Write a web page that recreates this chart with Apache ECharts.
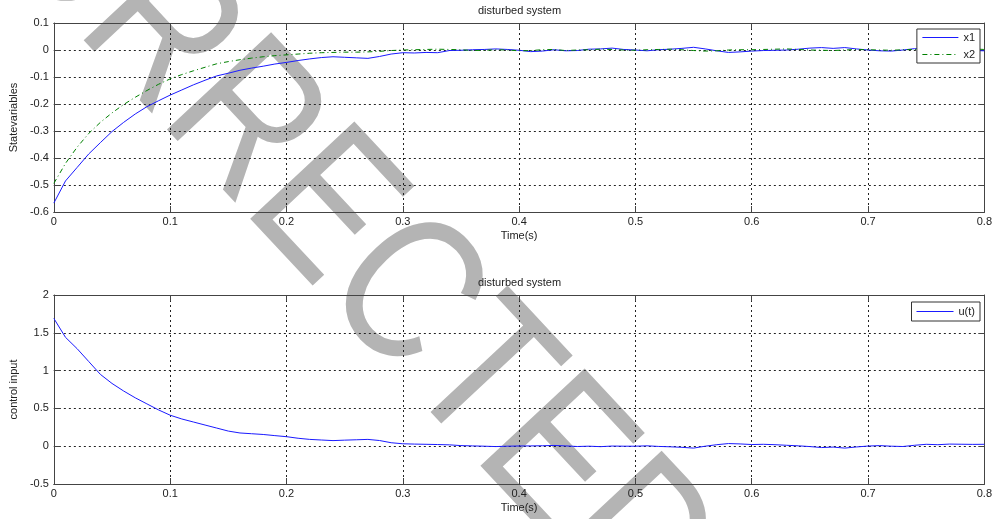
<!DOCTYPE html>
<html>
<head>
<meta charset="utf-8">
<script src="https://cdn.jsdelivr.net/npm/echarts@6/dist/echarts.min.js"></script>
<style>html,body{margin:0;padding:0;background:#fff;}#c{width:995px;height:519px;}</style>
</head>
<body>
<div id="c"></div>
<script>
var times = [
0.00,0.01,0.02,0.03,0.04,0.05,0.06,0.07,0.08,0.09,
0.10,0.11,0.12,0.13,0.14,0.15,0.16,0.17,0.18,0.19,
0.20,0.21,0.22,0.23,0.24,0.25,0.26,0.27,0.28,0.29,
0.30,0.31,0.32,0.33,0.34,0.35,0.36,0.37,0.38,0.39,
0.40,0.41,0.42,0.43,0.44,0.45,0.46,0.47,0.48,0.49,
0.50,0.51,0.52,0.53,0.54,0.55,0.56,0.57,0.58,0.59,
0.60,0.61,0.62,0.63,0.64,0.65,0.66,0.67,0.68,0.69,
0.70,0.71,0.72,0.73,0.74,0.75,0.76,0.77,0.78,0.79,
0.80];
var x1 = [
-0.567,-0.485,-0.435,-0.385,-0.343,-0.302,-0.268,-0.237,-0.210,-0.188,
-0.167,-0.148,-0.129,-0.112,-0.096,-0.086,-0.075,-0.067,-0.060,-0.052,
-0.046,-0.039,-0.033,-0.028,-0.025,-0.027,-0.029,-0.031,-0.024,-0.015,
-0.010,-0.011,-0.009,-0.010,-0.002,-0.001,0.001,0.002,0.004,0.002,
-0.001,-0.006,-0.004,0.001,-0.003,-0.002,0.003,0.004,0.007,0.002,
0.000,-0.003,0.001,0.003,0.006,0.010,0.004,-0.003,-0.009,-0.007,
-0.004,-0.002,-0.001,0.000,0.003,0.007,0.009,0.006,0.009,0.004,
0.000,-0.003,-0.004,0.000,0.005,0.003,0.001,0.002,0.000,-0.002,
-0.003];
var x2 = [
-0.494,-0.420,-0.360,-0.309,-0.268,-0.233,-0.202,-0.175,-0.150,-0.127,
-0.107,-0.091,-0.077,-0.064,-0.051,-0.043,-0.036,-0.030,-0.025,-0.021,
-0.018,-0.015,-0.012,-0.010,-0.009,-0.008,-0.008,-0.007,-0.005,-0.002,
0.000,0.001,0.002,0.003,0.002,0.001,-0.002,-0.001,0.001,0.000,
-0.003,-0.002,0.001,0.002,-0.002,0.000,0.001,0.003,0.002,0.000,
-0.001,0.001,0.002,0.003,0.001,-0.002,-0.004,-0.003,0.000,0.001,
0.001,0.002,0.003,0.004,0.002,0.000,-0.001,-0.002,0.000,0.002,
0.001,0.000,-0.001,0.001,0.002,0.003,0.002,0.001,0.003,0.004,
0.002];
var u = [
1.69,1.44,1.29,1.12,0.95,0.83,0.73,0.64,0.56,0.48,
0.41,0.36,0.32,0.28,0.24,0.20,0.175,0.165,0.155,0.14,
0.126,0.105,0.09,0.082,0.074,0.08,0.085,0.09,0.075,0.046,
0.032,0.028,0.025,0.022,0.018,0.008,0.004,0.0,-0.005,0.0,
0.003,0.004,0.006,0.01,0.004,-0.004,0.0,-0.006,0.002,0.0,
0.0,0.005,-0.003,-0.008,-0.015,-0.025,0.0,0.02,0.035,0.03,
0.022,0.025,0.02,0.012,0.005,-0.005,-0.018,-0.012,-0.025,-0.01,
0.002,0.008,0.0,-0.004,0.012,0.025,0.02,0.028,0.026,0.024,
0.025];
var titleText = "disturbed system";
var xName = "Time(s)";
var yNameTop = "Statevariables";
var yNameBottom = "control input";
var watermark = "CORRECTED";

function pairs(ys){ return times.map(function(t,i){ return [t, ys[i]]; }); }

var BLUE = '#1a1aff', GREEN = '#008000';
var FONT = '"Liberation Sans", Arial, sans-serif';
var txt = {fontFamily: FONT, fontSize: 11, color: '#222'};
var split = {show: true, lineStyle: {color: '#222', type: [2, 3], width: 1}};
var aLine = {show: true, onZero: false, lineStyle: {color: '#444', width: 1}};
var tick = {show: true, inside: true, length: 6, lineStyle: {color: '#444'}};

function xMain(gi){
  return {type:'value', gridIndex:gi, min:0, max:0.8, interval:0.1, position:'bottom',
    axisLine:aLine, axisTick:tick, splitLine:split,
    axisLabel:Object.assign({margin:4}, txt),
    name:xName, nameLocation:'middle', nameGap:18, nameTextStyle:txt};
}
function xTop(gi){
  return {type:'value', gridIndex:gi, min:0, max:0.8, interval:0.1, position:'top',
    axisLine:aLine, axisTick:tick, splitLine:{show:false}, axisLabel:{show:false}};
}
function yMain(gi, mn, mx, iv, nm){
  return {type:'value', gridIndex:gi, min:mn, max:mx, interval:iv, position:'left',
    axisLine:aLine, axisTick:tick, splitLine:split,
    axisLabel:Object.assign({margin:5}, txt),
    name:nm, nameLocation:'middle', nameGap:30, nameTextStyle:txt};
}
function yRight(gi, mn, mx, iv){
  return {type:'value', gridIndex:gi, min:mn, max:mx, interval:iv, position:'right',
    axisLine:aLine, axisTick:tick, splitLine:{show:false}, axisLabel:{show:false}};
}
var legLine = {color:'inherit', width:1, type:'inherit', opacity:1};
var barIcon = 'path://M0,0H36V1H0Z';

var chart = echarts.init(document.getElementById('c'), null, {renderer:'canvas'});
chart.setOption({
  backgroundColor:'#fff',
  animation:false,
  color:[BLUE, GREEN, BLUE],
  title:[
    {text:titleText, left:473, top:0, textStyle:{fontFamily:FONT, fontSize:11, fontWeight:'normal', color:'#222'}},
    {text:titleText, left:473, top:272, textStyle:{fontFamily:FONT, fontSize:11, fontWeight:'normal', color:'#222'}}
  ],
  grid:[
    {left:51, right:10, top:23, height:189, containLabel:false, show:false},
    {left:51, right:10, top:295, height:189, containLabel:false, show:false}
  ],
  legend:[
    {data:[
       {name:'x1', icon:barIcon, itemStyle:{color:BLUE, opacity:1}},
       {name:'x2'}
     ],
     orient:'vertical', right:15, top:29, itemWidth:36, itemHeight:12, itemGap:6, symbolKeepAspect:true,
     padding:[3,5,3,5], backgroundColor:'#fff', borderColor:'#333', borderWidth:1, borderRadius:0,
     textStyle:txt, itemStyle:{opacity:0}, lineStyle:legLine},
    {data:[
       {name:'u(t)', icon:barIcon, itemStyle:{color:BLUE, opacity:1}}
     ],
     orient:'vertical', right:15, top:302, itemWidth:37, itemHeight:12, symbolKeepAspect:true,
     padding:[4,5,4,5], backgroundColor:'#fff', borderColor:'#333', borderWidth:1, borderRadius:0,
     textStyle:txt, itemStyle:{opacity:0}, lineStyle:legLine}
  ],
  xAxis:[xMain(0), xTop(0), xMain(1), xTop(1)],
  yAxis:[yMain(0,-0.6,0.1,0.1,yNameTop), yRight(0,-0.6,0.1,0.1), yMain(1,-0.5,2,0.5,yNameBottom), yRight(1,-0.5,2,0.5)],
  graphic:[
    {type:'text', x:308, y:197, rotation:-0.820, scaleX:0.816, scaleY:1, z:-10, silent:true,
     style:{text:watermark, font:'normal 207px "Liberation Sans", Arial, sans-serif', fill:'#b4b4b4', align:'center', verticalAlign:'middle'}}
  ],
  series:[
    {name:'x1', type:'line', color:BLUE, xAxisIndex:0, yAxisIndex:0, data:pairs(x1), showSymbol:false, symbol:'none',
     lineStyle:{color:BLUE, width:1}, itemStyle:{color:BLUE}},
    {name:'x2', type:'line', color:GREEN, xAxisIndex:0, yAxisIndex:0, data:pairs(x2), showSymbol:false, symbol:'none',
     lineStyle:{color:GREEN, width:1, type:[5,3,1,3]}, itemStyle:{color:GREEN}},
    {name:'u(t)', type:'line', color:BLUE, xAxisIndex:2, yAxisIndex:2, data:pairs(u), showSymbol:false, symbol:'none',
     lineStyle:{color:BLUE, width:1}, itemStyle:{color:BLUE}}
  ]
});
</script>
</body>
</html>
